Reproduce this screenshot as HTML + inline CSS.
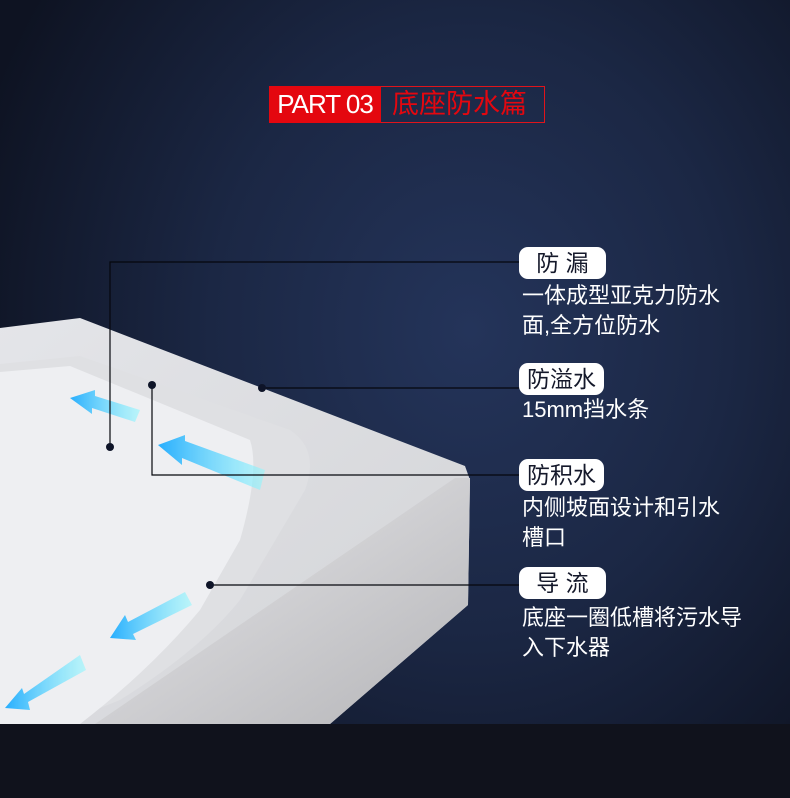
<!DOCTYPE html>
<html><head><meta charset="utf-8"><style>
body{margin:0;width:790px;height:798px;overflow:hidden;background:#10121c;font-family:"Liberation Sans","Noto Sans CJK SC",sans-serif;}
#bg{position:absolute;left:0;top:0;width:790px;height:724px;background:radial-gradient(ellipse 520px 600px at 470px 330px,#24345a 0%,#1b2744 50%,#0e1322 100%);}
.pill{position:absolute;left:519px;background:#fff;border-radius:9px;color:#14182a;font-size:23px;height:32px;line-height:32px;text-align:center;}
.t{position:absolute;left:522px;color:#fff;font-size:22px;line-height:30px;white-space:nowrap}
</style></head><body>
<div id="bg"></div>
<div style="position:absolute;left:269px;top:86px;width:276px;height:37px;border:1px solid #e0141b;box-sizing:border-box"></div>
<div style="position:absolute;left:269px;top:86px;width:112px;height:37px;background:#e4070f;color:#fff;font-size:26px;line-height:37px;text-align:center;letter-spacing:-1px">PART 03</div>
<div style="position:absolute;left:392px;top:86px;color:#e4070f;font-size:27px;line-height:37px">底座防水篇</div>
<svg style="position:absolute;left:0;top:0" width="790" height="798">
<defs>
<linearGradient id="side" x1="0" y1="0" x2="1" y2="1"><stop offset="0" stop-color="#e9e9ec"/><stop offset="1" stop-color="#b5b5b8"/></linearGradient>
<linearGradient id="top" x1="0" y1="0" x2="1" y2="1"><stop offset="0" stop-color="#e4e5e9"/><stop offset="1" stop-color="#d2d3d6"/></linearGradient>
<linearGradient id="ar" x1="0" y1="0" x2="1" y2="0"><stop offset="0" stop-color="#12a7ff"/><stop offset="1" stop-color="#8ef9ff" stop-opacity=".6"/></linearGradient>
</defs>
<polygon points="0,328 80,318 465,466 470,480 468,605 330,724 0,724" fill="url(#top)"/>
<polygon points="455,478 470,478 468,605 330,724 95,724" fill="url(#side)"/>
<path d="M0,364 L80,356 L290,430 Q320,450 305,490 L240,600 Q200,650 120,700 L60,724 L0,724 Z" fill="#dfe0e3"/>
<path d="M0,372 L70,366 L250,440 Q260,470 240,540 L200,610 Q150,670 80,724 L0,724 Z" fill="#eeeff2"/>
<g opacity=".9">
<polygon points="70,398 95,390 95,396 140,410 135,422 92,408 92,414" fill="url(#ar)"/>
<polygon points="158,445 185,435 185,441 265,470 260,490 182,458 182,465" fill="url(#ar)"/>
<polygon points="110,638 125,615 128,622 185,592 192,605 133,634 136,640" fill="url(#ar)"/>
<polygon points="5,708 22,688 24,694 80,655 86,670 28,702 30,710" fill="url(#ar)"/>
</g>
<g stroke="#05070d" stroke-width="1.2" fill="none">
<polyline points="519,262 110,262 110,447"/>
<line x1="262" y1="388" x2="519" y2="388"/>
<polyline points="152,385 152,475 519,475"/>
<line x1="210" y1="585" x2="519" y2="585"/>
</g>
<g fill="#0e1428"><circle cx="110" cy="447" r="4"/><circle cx="262" cy="388" r="4"/><circle cx="152" cy="385" r="4"/><circle cx="210" cy="585" r="4"/></g>
</svg>
<div class="pill" style="top:247px;width:87px">防 漏</div>
<div class="t" style="top:281px">一体成型亚克力防水<br>面,全方位防水</div>
<div class="pill" style="top:363px;width:85px">防溢水</div>
<div class="t" style="top:395px">15mm挡水条</div>
<div class="pill" style="top:459px;width:85px">防积水</div>
<div class="t" style="top:493px">内侧坡面设计和引水<br>槽口</div>
<div class="pill" style="top:567px;width:87px">导 流</div>
<div class="t" style="top:603px">底座一圈低槽将污水导<br>入下水器</div>
</body></html>
